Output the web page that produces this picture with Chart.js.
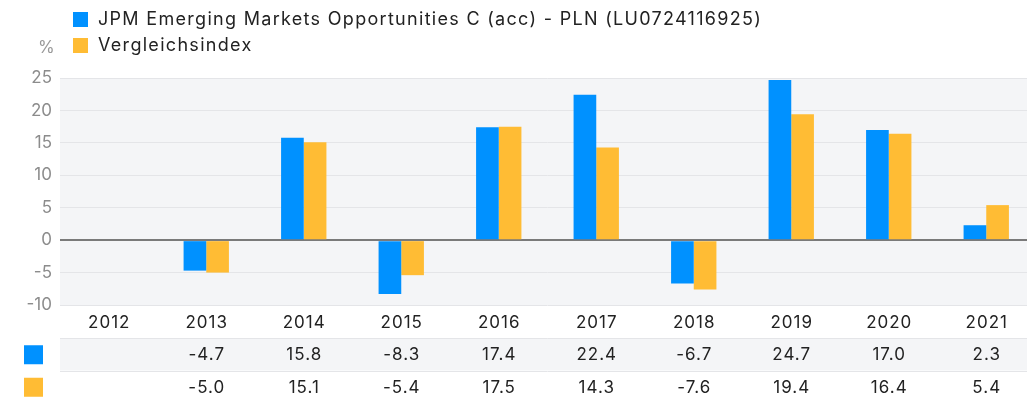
<!DOCTYPE html>
<html>
<head>
<meta charset="utf-8">
<script src="https://cdn.jsdelivr.net/npm/chart.js@4.4.1/dist/chart.umd.min.js"></script>
<style>
  html, body { margin: 0; padding: 0; background: #fff; overflow: hidden; }
  #wrap { position: relative; width: 1027px; height: 401px; overflow: hidden; }
  canvas { position: absolute; left: 0; top: 0; }
</style>
</head>
<body>
<div id="wrap"><canvas id="chart" width="1035" height="401"></canvas></div>
<script>
const years = ["2012", "2013", "2014", "2015", "2016", "2017", "2018", "2019", "2020", "2021"];
const fundValues = [null, -4.7, 15.8, -8.3, 17.4, 22.4, -6.7, 24.7, 17.0, 2.3];
const indexValues = [null, -5.0, 15.1, -5.4, 17.5, 14.3, -7.6, 19.4, 16.4, 5.4];
const seriesNames = ["JPM Emerging Markets Opportunities C (acc) - PLN (LU0724116925)", "Vergleichsindex"];
const seriesColors = ["#0091ff", "#ffbc34"];
const yTicks = [-10, -5, 0, 5, 10, 15, 20, 25];

const FONT = "Inter, 'Noto Sans', sans-serif";

// grey plot background
const plotBg = {
  id: 'plotBg',
  beforeDraw(chart) {
    const {ctx, chartArea: a} = chart;
    ctx.save();
    ctx.fillStyle = '#f4f5f7';
    ctx.fillRect(a.left, a.top, a.right - a.left, a.bottom - a.top);
    ctx.restore();
  }
};

// legend, % label, year labels and value table
const extras = {
  id: 'extras',
  afterDraw(chart) {
    const {ctx, chartArea: a} = chart;
    const xs = chart.scales.x;
    ctx.save();

    // legend
    ctx.font = "18px " + FONT;
    ctx.letterSpacing = '1.3px';
    ctx.textBaseline = 'middle';
    seriesNames.forEach((n, i) => {
      const y = 20 + i * 26;
      ctx.fillStyle = seriesColors[i];
      ctx.fillRect(73, y - 8, 15, 15);
      ctx.fillStyle = '#222';
      ctx.fillText(n, 98, y);
    });
    ctx.letterSpacing = '0px';
    ctx.font = "17px " + FONT;
    ctx.fillStyle = '#999';
    ctx.fillText('%', 38, 48);

    // year labels
    ctx.font = "17px " + FONT;
    ctx.letterSpacing = '1px';
    ctx.fillStyle = '#222';
    ctx.textAlign = 'center';
    years.forEach((y, i) => ctx.fillText(y, xs.getPixelForValue(i) + 0.5, 323));

    // table rows
    const rowTop = 338, rowH = 32.5;
    ctx.fillStyle = '#f4f5f7';
    ctx.fillRect(a.left, rowTop, a.right - a.left, rowH);
    ctx.strokeStyle = '#e4e5e8';
    ctx.lineWidth = 1;
    [rowTop, rowTop + rowH].forEach(y => {
      ctx.beginPath();
      ctx.moveTo(a.left, Math.round(y) + 0.5);
      ctx.lineTo(a.right, Math.round(y) + 0.5);
      ctx.stroke();
    });

    [fundValues, indexValues].forEach((vals, r) => {
      const cy = rowTop + rowH * r + rowH / 2 + 1;
      ctx.fillStyle = seriesColors[r];
      ctx.fillRect(24, cy - 10, 19, 19);
      ctx.fillStyle = '#222';
      vals.forEach((v, i) => {
        if (v === null) return;
        ctx.fillText(v.toFixed(1), xs.getPixelForValue(i) + 0.5, cy);
      });
    });
    ctx.restore();
  }
};

new Chart(document.getElementById('chart'), {
  type: 'bar',
  data: {
    labels: years,
    datasets: [
      { label: seriesNames[0], data: fundValues, backgroundColor: seriesColors[0] },
      { label: seriesNames[1], data: indexValues, backgroundColor: seriesColors[1] }
    ]
  },
  options: {
    responsive: false,
    animation: false,
    layout: { padding: { top: 78, bottom: 63, left: 0, right: 0 } },
    datasets: { bar: { categoryPercentage: 0.465, barPercentage: 1 } },
    plugins: { legend: { display: false }, tooltip: { enabled: false } },
    scales: {
      x: {
        grid: { display: false, drawTicks: false },
        border: { display: false },
        ticks: { display: false },
        afterFit(s) { s.height = 33; }
      },
      y: {
        min: -10, max: 25,
        afterBuildTicks(s) { s.ticks = yTicks.map(v => ({ value: v })); },
        grid: {
          drawTicks: false,
          color: ctx => ctx.tick && ctx.tick.value === 0 ? '#7a7a7a' : '#e4e5e8',
          lineWidth: ctx => ctx.tick && ctx.tick.value === 0 ? 2 : 1
        },
        border: { display: false },
        ticks: { color: '#8c8c8c', font: { family: FONT, size: 17 }, padding: 8 },
        afterFit(s) { s.width = 60; }
      }
    }
  },
  plugins: [plotBg, extras]
});
</script>
</body>
</html>
